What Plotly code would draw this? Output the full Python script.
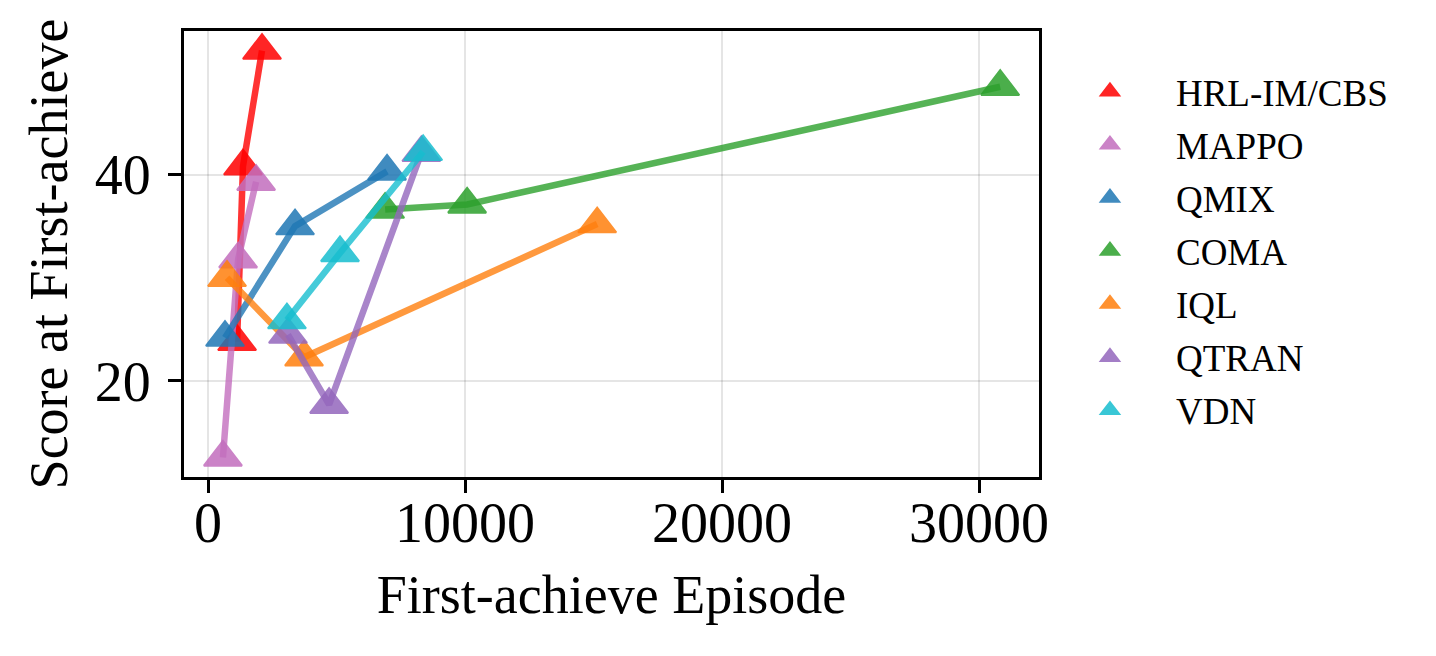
import plotly.graph_objects as go

# method names, in legend / drawing order
methods = ["HRL-IM/CBS", "MAPPO", "QMIX", "COMA", "IQL", "QTRAN", "VDN"]

# first-achieve episode for each method (three checkpoints each)
hrl_x = [1130, 1360, 2100]
mappo_x = [580, 1170, 1870]
qmix_x = [660, 3385, 6965]
coma_x = [6890, 10080, 30820]
iql_x = [740, 3735, 15140]
qtran_x = [3110, 4710, 8300]
vdn_x = [3070, 5135, 8370]

# score at first-achieve
hrl_y = [23.8, 40.8, 52.0]
mappo_y = [12.6, 31.8, 39.3]
qmix_y = [24.2, 35.0, 40.3]
coma_y = [36.6, 37.1, 48.5]
iql_y = [30.0, 22.3, 35.2]
qtran_y = [24.5, 17.7, 42.1]
vdn_y = [25.9, 32.4, 42.2]

x_ticks = [0, 10000, 20000, 30000]
y_ticks = [20, 40]

colors = ["255,0,0", "195,110,190", "31,119,180", "44,160,44",
          "255,127,14", "148,103,189", "23,190,207"]

all_x = [hrl_x, mappo_x, qmix_x, coma_x, iql_x, qtran_x, vdn_x]
all_y = [hrl_y, mappo_y, qmix_y, coma_y, iql_y, qtran_y, vdn_y]

font_name = "Liberation Serif"

fig = go.Figure()

for name, xs, ys, c in zip(methods, all_x, all_y, colors):
    # line first, then the markers on top (legend shows markers only)
    fig.add_trace(go.Scatter(x=xs, y=ys,
                             mode="lines",
                             showlegend=False,
                             hoverinfo="skip",
                             line=dict(color=f"rgba({c},0.8)", width=6.5)))
    fig.add_trace(go.Scatter(x=xs, y=ys,
                             mode="markers",
                             name=name,
                             legendgroup=name,
                             marker=dict(symbol="triangle-up", size=33,
                                         color=f"rgb({c})", opacity=0.85,
                                         line=dict(color=f"rgb({c})", width=2))))

# page body has an 8px margin, so the figure is a little smaller
fig.update_layout(width=1428, height=648,
                  margin=dict(l=176, r=397, t=23, b=179),
                  paper_bgcolor="white",
                  plot_bgcolor="white",
                  font=dict(family=font_name, size=54, color="black"),
                  showlegend=True,
                  legend=dict(x=1.0058, y=0.933, xanchor="left", yanchor="top",
                              font=dict(family=font_name, size=37),
                              tracegroupgap=2,
                              itemwidth=122,
                              bgcolor="rgba(0,0,0,0)"))

fig.update_xaxes(range=[-935, 32330],
                 tickvals=x_ticks,
                 ticktext=[str(v) for v in x_ticks],
                 tickfont=dict(size=56),
                 ticklabelstandoff=-18,
                 ticks="outside", ticklen=13, tickwidth=3, tickcolor="black",
                 showline=True, linewidth=3, linecolor="black", mirror=True,
                 showgrid=True, gridcolor="rgba(0,0,0,0.1)", gridwidth=2,
                 zeroline=False,
                 title=dict(text="First-achieve Episode", standoff=22,
                            font=dict(size=54)),
                 automargin=False)

fig.update_yaxes(range=[10.7, 53.9],
                 tickvals=y_ticks,
                 tickfont=dict(size=56),
                 ticklabelstandoff=6,
                 ticks="outside", ticklen=13, tickwidth=3, tickcolor="black",
                 showline=True, linewidth=3, linecolor="black", mirror=True,
                 showgrid=True, gridcolor="rgba(0,0,0,0.1)", gridwidth=2,
                 zeroline=False,
                 title=dict(text="Score at First-achieve", standoff=10,
                            font=dict(size=54)),
                 automargin=False)

fig.write_html("out.html")
